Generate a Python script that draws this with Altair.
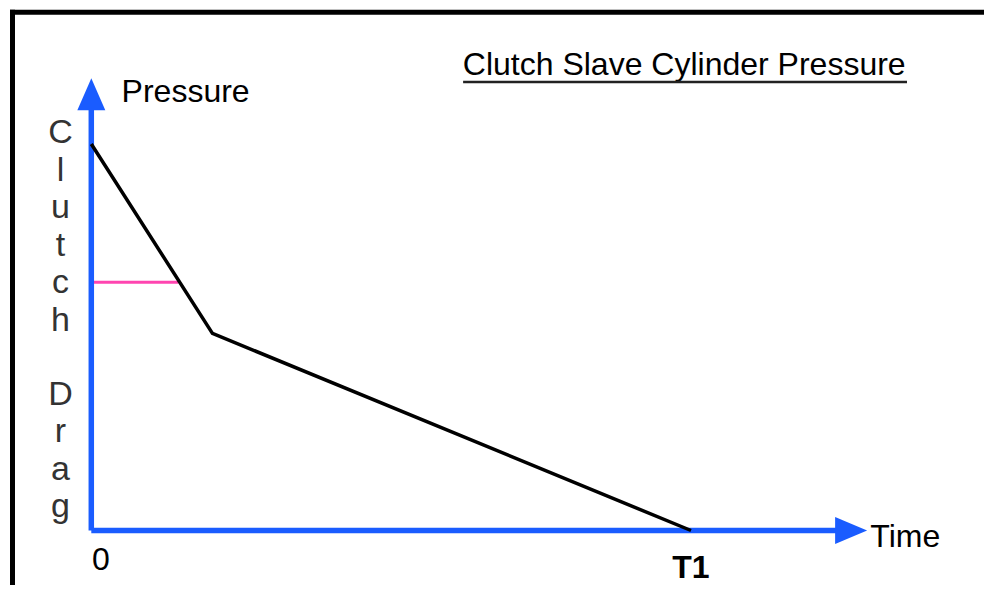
import altair as alt
import pandas as pd

# ---- data (time in units of T1, pressure relative to initial value) ----
curve_time = [0.0, 0.202, 1.0]
curve_pressure = [1.0, 0.51, 0.0]

drag_time = [0.0, 0.145]
drag_pressure = [0.642, 0.642]

# axis extents (data units)
x_axis_end = 1.25
y_axis_end = 1.10
x_arrow = [1.267, 0.0]
y_arrow = [1.129, 0.0]

title_text = "Clutch Slave Cylinder Pressure"
y_label = "Pressure"
x_label = "Time"
tick_zero = "0"
tick_t1 = "T1"
side_word1 = ["C", "l", "u", "t", "c", "h"]
side_word2 = ["D", "r", "a", "g"]

BLUE = "#1a5cff"
PINK = "#ff45b0"

W, H = 976, 577
xs = alt.Scale(domain=[-0.1389, 1.4886], nice=False, zero=False)
ys = alt.Scale(domain=[-0.1410, 1.3519], nice=False, zero=False)


def X(field="t"):
    return alt.X(f"{field}:Q", scale=xs, axis=None)


def Y(field="p"):
    return alt.Y(f"{field}:Q", scale=ys, axis=None)


curve_df = pd.DataFrame({"t": curve_time, "p": curve_pressure})
drag_df = pd.DataFrame({"t": drag_time, "p": drag_pressure})
axes_df = pd.DataFrame({
    "t": [0.0, 0.0], "p": [0.0, 0.0],
    "t2": [0.0, x_axis_end], "p2": [y_axis_end, 0.0],
})
arrow_up_df = pd.DataFrame({"t": [0.0], "p": [y_arrow[0]]})
arrow_right_df = pd.DataFrame({"t": [x_arrow[0]], "p": [x_arrow[1]]})

axes = alt.Chart(axes_df).mark_rule(color=BLUE, strokeWidth=5.5).encode(
    x=X(), y=Y(), x2="t2:Q", y2="p2:Q"
)
arrow_up = alt.Chart(arrow_up_df).mark_point(
    shape="M0,-1L0.875,1L-0.875,1Z", size=1024, filled=True, color=BLUE, opacity=1
).encode(x=X(), y=Y())
arrow_right = alt.Chart(arrow_right_df).mark_point(
    shape="M1,0L-1,0.84L-1,-0.84Z", size=1024, filled=True, color=BLUE, opacity=1
).encode(x=X(), y=Y())

drag = alt.Chart(drag_df).mark_line(color=PINK, strokeWidth=3).encode(x=X(), y=Y())
curve = alt.Chart(curve_df).mark_line(color="black", strokeWidth=3.5).encode(x=X(), y=Y())

FS = 32

labels_df = pd.DataFrame([
    {"t": 0.0505, "p": 1.1094, "label": y_label},
    {"t": 1.2990, "p": -0.0419, "label": x_label},
])
labels = alt.Chart(labels_df).mark_text(
    align="left", baseline="alphabetic", font="Liberation Sans", fontSize=FS, color="black"
).encode(x=X(), y=Y(), text="label:N")

title_df = pd.DataFrame([{"t": 0.6195, "p": 1.1785, "label": title_text}])
title = alt.Chart(title_df).mark_text(
    align="left", baseline="alphabetic", font="Liberation Sans", fontSize=FS, color="black"
).encode(x=X(), y=Y(), text="label:N")
underline_df = pd.DataFrame([{"t": 0.6200, "t2": 1.3602, "p": 1.1604}])
underline = alt.Chart(underline_df).mark_rule(color="#222222", strokeWidth=2.5).encode(
    x=X(), x2="t2:Q", y=Y()
)

zero_df = pd.DataFrame([{"t": 0.0158, "p": -0.1022, "label": tick_zero}])
zero = alt.Chart(zero_df).mark_text(
    align="center", baseline="alphabetic", font="Liberation Sans", fontSize=FS, color="black"
).encode(x=X(), y=Y(), text="label:N")
t1_df = pd.DataFrame([{"t": 1.0, "p": -0.1237, "label": tick_t1}])
t1 = alt.Chart(t1_df).mark_text(
    align="center", baseline="alphabetic", font="Liberation Sans", fontSize=FS,
    fontWeight="bold", color="black"
).encode(x=X(), y=Y(), text="label:N")

side_df = pd.DataFrame([
    {"t": -0.0514, "p": 1.0026, "label": side_word1},
    {"t": -0.0514, "p": 0.3260, "label": side_word2},
])
side = alt.Chart(side_df).mark_text(
    align="center", baseline="alphabetic", font="Liberation Sans", fontSize=34,
    lineHeight=37.5, color="#333333"
).encode(x=X(), y=Y(), text="label")

frame_df = pd.DataFrame({"k": [0]})
frame_left = alt.Chart(frame_df).mark_rule(color="black", strokeWidth=5).encode(
    x=alt.value(4.5), y=alt.value(1.8), y2=alt.value(H)
)
frame_top = alt.Chart(frame_df).mark_rule(color="black", strokeWidth=5).encode(
    x=alt.value(2), x2=alt.value(W), y=alt.value(4.3)
)

chart = alt.layer(
    frame_left, frame_top, drag, axes, arrow_up, arrow_right, curve,
    labels, title, underline, zero, t1, side
).properties(
    width=W, height=H, padding=0, autosize=alt.AutoSizeParams(type="none")
).configure_view(stroke=None)

chart.save("out.html", embed_options={"renderer": "svg", "actions": False})
